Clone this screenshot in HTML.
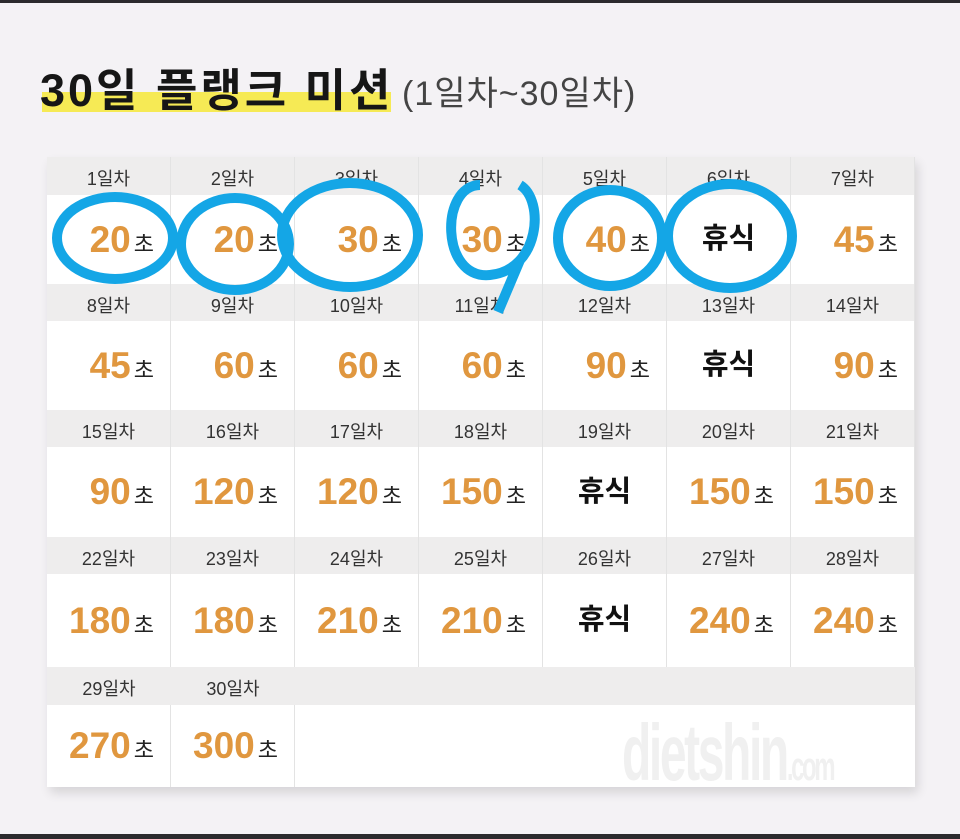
<!DOCTYPE html><html><head><meta charset="utf-8"><style>
body{margin:0;width:960px;height:839px;background:#f4f2f5;position:relative;overflow:hidden;font-family:"Liberation Sans","Noto Sans CJK KR",sans-serif}
.bar{position:absolute;left:0;width:960px;background:#2b2a2d}
.hl{position:absolute;left:42px;top:92px;width:349px;height:20px;background:#f6ea55}
.t{position:absolute;left:40px;top:54px;font-size:45px;font-weight:bold;color:#161616;letter-spacing:3px;white-space:nowrap}
.t2{position:absolute;left:402px;top:66px;font-size:34px;color:#444;letter-spacing:1px;white-space:nowrap}
.tbl{position:absolute;left:47px;top:157px;width:868px;height:630px;background:#fff;box-shadow:3px 6px 10px rgba(0,0,0,.12)}
.row{position:absolute;left:0;width:868px;display:flex}
.h{background:#eeeded}
.c{flex:0 0 124px;box-sizing:border-box;border-right:1px solid #e3e3e3;position:relative}
.h .c{text-align:center;font-size:18px;color:#333;padding-top:8px}
.v .c{text-align:right;padding-right:16px;font-weight:bold;color:#e0973f;font-size:37px;letter-spacing:0px}
.v .c small{font-size:22px;color:#222;font-weight:normal;margin-left:3px}
.v .c.r{text-align:center;padding-right:0;color:#111;font-size:29px}
</style></head><body>
<div class="bar" style="top:0;height:3px"></div>
<div class="bar" style="top:834px;height:5px"></div>
<div class="hl"></div>
<div class="t">30일 플랭크 미션</div>
<div class="t2">(1일차~30일차)</div>
<div class="tbl">
<div class="row h" style="top:0;height:38px"><div class="c">1일차</div><div class="c">2일차</div><div class="c">3일차</div><div class="c">4일차</div><div class="c">5일차</div><div class="c">6일차</div><div class="c">7일차</div></div>
<div class="row v" style="top:38px;height:89px;line-height:89px"><div class="c">20<small>초</small></div><div class="c">20<small>초</small></div><div class="c">30<small>초</small></div><div class="c">30<small>초</small></div><div class="c">40<small>초</small></div><div class="c r">휴식</div><div class="c">45<small>초</small></div></div>
<div class="row h" style="top:127px;height:37px"><div class="c">8일차</div><div class="c">9일차</div><div class="c">10일차</div><div class="c">11일차</div><div class="c">12일차</div><div class="c">13일차</div><div class="c">14일차</div></div>
<div class="row v" style="top:164px;height:89px;line-height:89px"><div class="c">45<small>초</small></div><div class="c">60<small>초</small></div><div class="c">60<small>초</small></div><div class="c">60<small>초</small></div><div class="c">90<small>초</small></div><div class="c r">휴식</div><div class="c">90<small>초</small></div></div>
<div class="row h" style="top:253px;height:37px"><div class="c">15일차</div><div class="c">16일차</div><div class="c">17일차</div><div class="c">18일차</div><div class="c">19일차</div><div class="c">20일차</div><div class="c">21일차</div></div>
<div class="row v" style="top:290px;height:90px;line-height:90px"><div class="c">90<small>초</small></div><div class="c">120<small>초</small></div><div class="c">120<small>초</small></div><div class="c">150<small>초</small></div><div class="c r">휴식</div><div class="c">150<small>초</small></div><div class="c">150<small>초</small></div></div>
<div class="row h" style="top:380px;height:37px"><div class="c">22일차</div><div class="c">23일차</div><div class="c">24일차</div><div class="c">25일차</div><div class="c">26일차</div><div class="c">27일차</div><div class="c">28일차</div></div>
<div class="row v" style="top:417px;height:93px;line-height:93px"><div class="c">180<small>초</small></div><div class="c">180<small>초</small></div><div class="c">210<small>초</small></div><div class="c">210<small>초</small></div><div class="c r">휴식</div><div class="c">240<small>초</small></div><div class="c">240<small>초</small></div></div>
<div class="row h" style="top:510px;height:38px"><div class="c" style="border:0">29일차</div><div class="c" style="border:0">30일차</div></div>
<div class="row v" style="top:548px;height:82px;line-height:82px"><div class="c">270<small>초</small></div><div class="c">300<small>초</small></div></div>
<div style="position:absolute;left:575px;top:550px;font-size:80px;color:#f0f0f0;font-weight:bold;letter-spacing:-4px;transform:scaleX(.6);transform-origin:left">dietshin<span style="font-size:40px">.com</span></div>
</div>
<svg width="960" height="839" style="position:absolute;left:0;top:0" fill="none" stroke="#14a6e6" stroke-width="10">
<ellipse cx="115" cy="238" rx="58" ry="41"/>
<ellipse cx="235" cy="244" rx="54" ry="46"/>
<ellipse cx="350" cy="235" rx="68" ry="52"/>
<path d="M480 185 C440 185 440 280 490 275 C540 270 545 200 520 185 M520 260 L498 312"/>
<ellipse cx="610" cy="238" rx="52" ry="48"/>
<ellipse cx="730" cy="236" rx="62" ry="52"/>
</svg>
</body></html>
